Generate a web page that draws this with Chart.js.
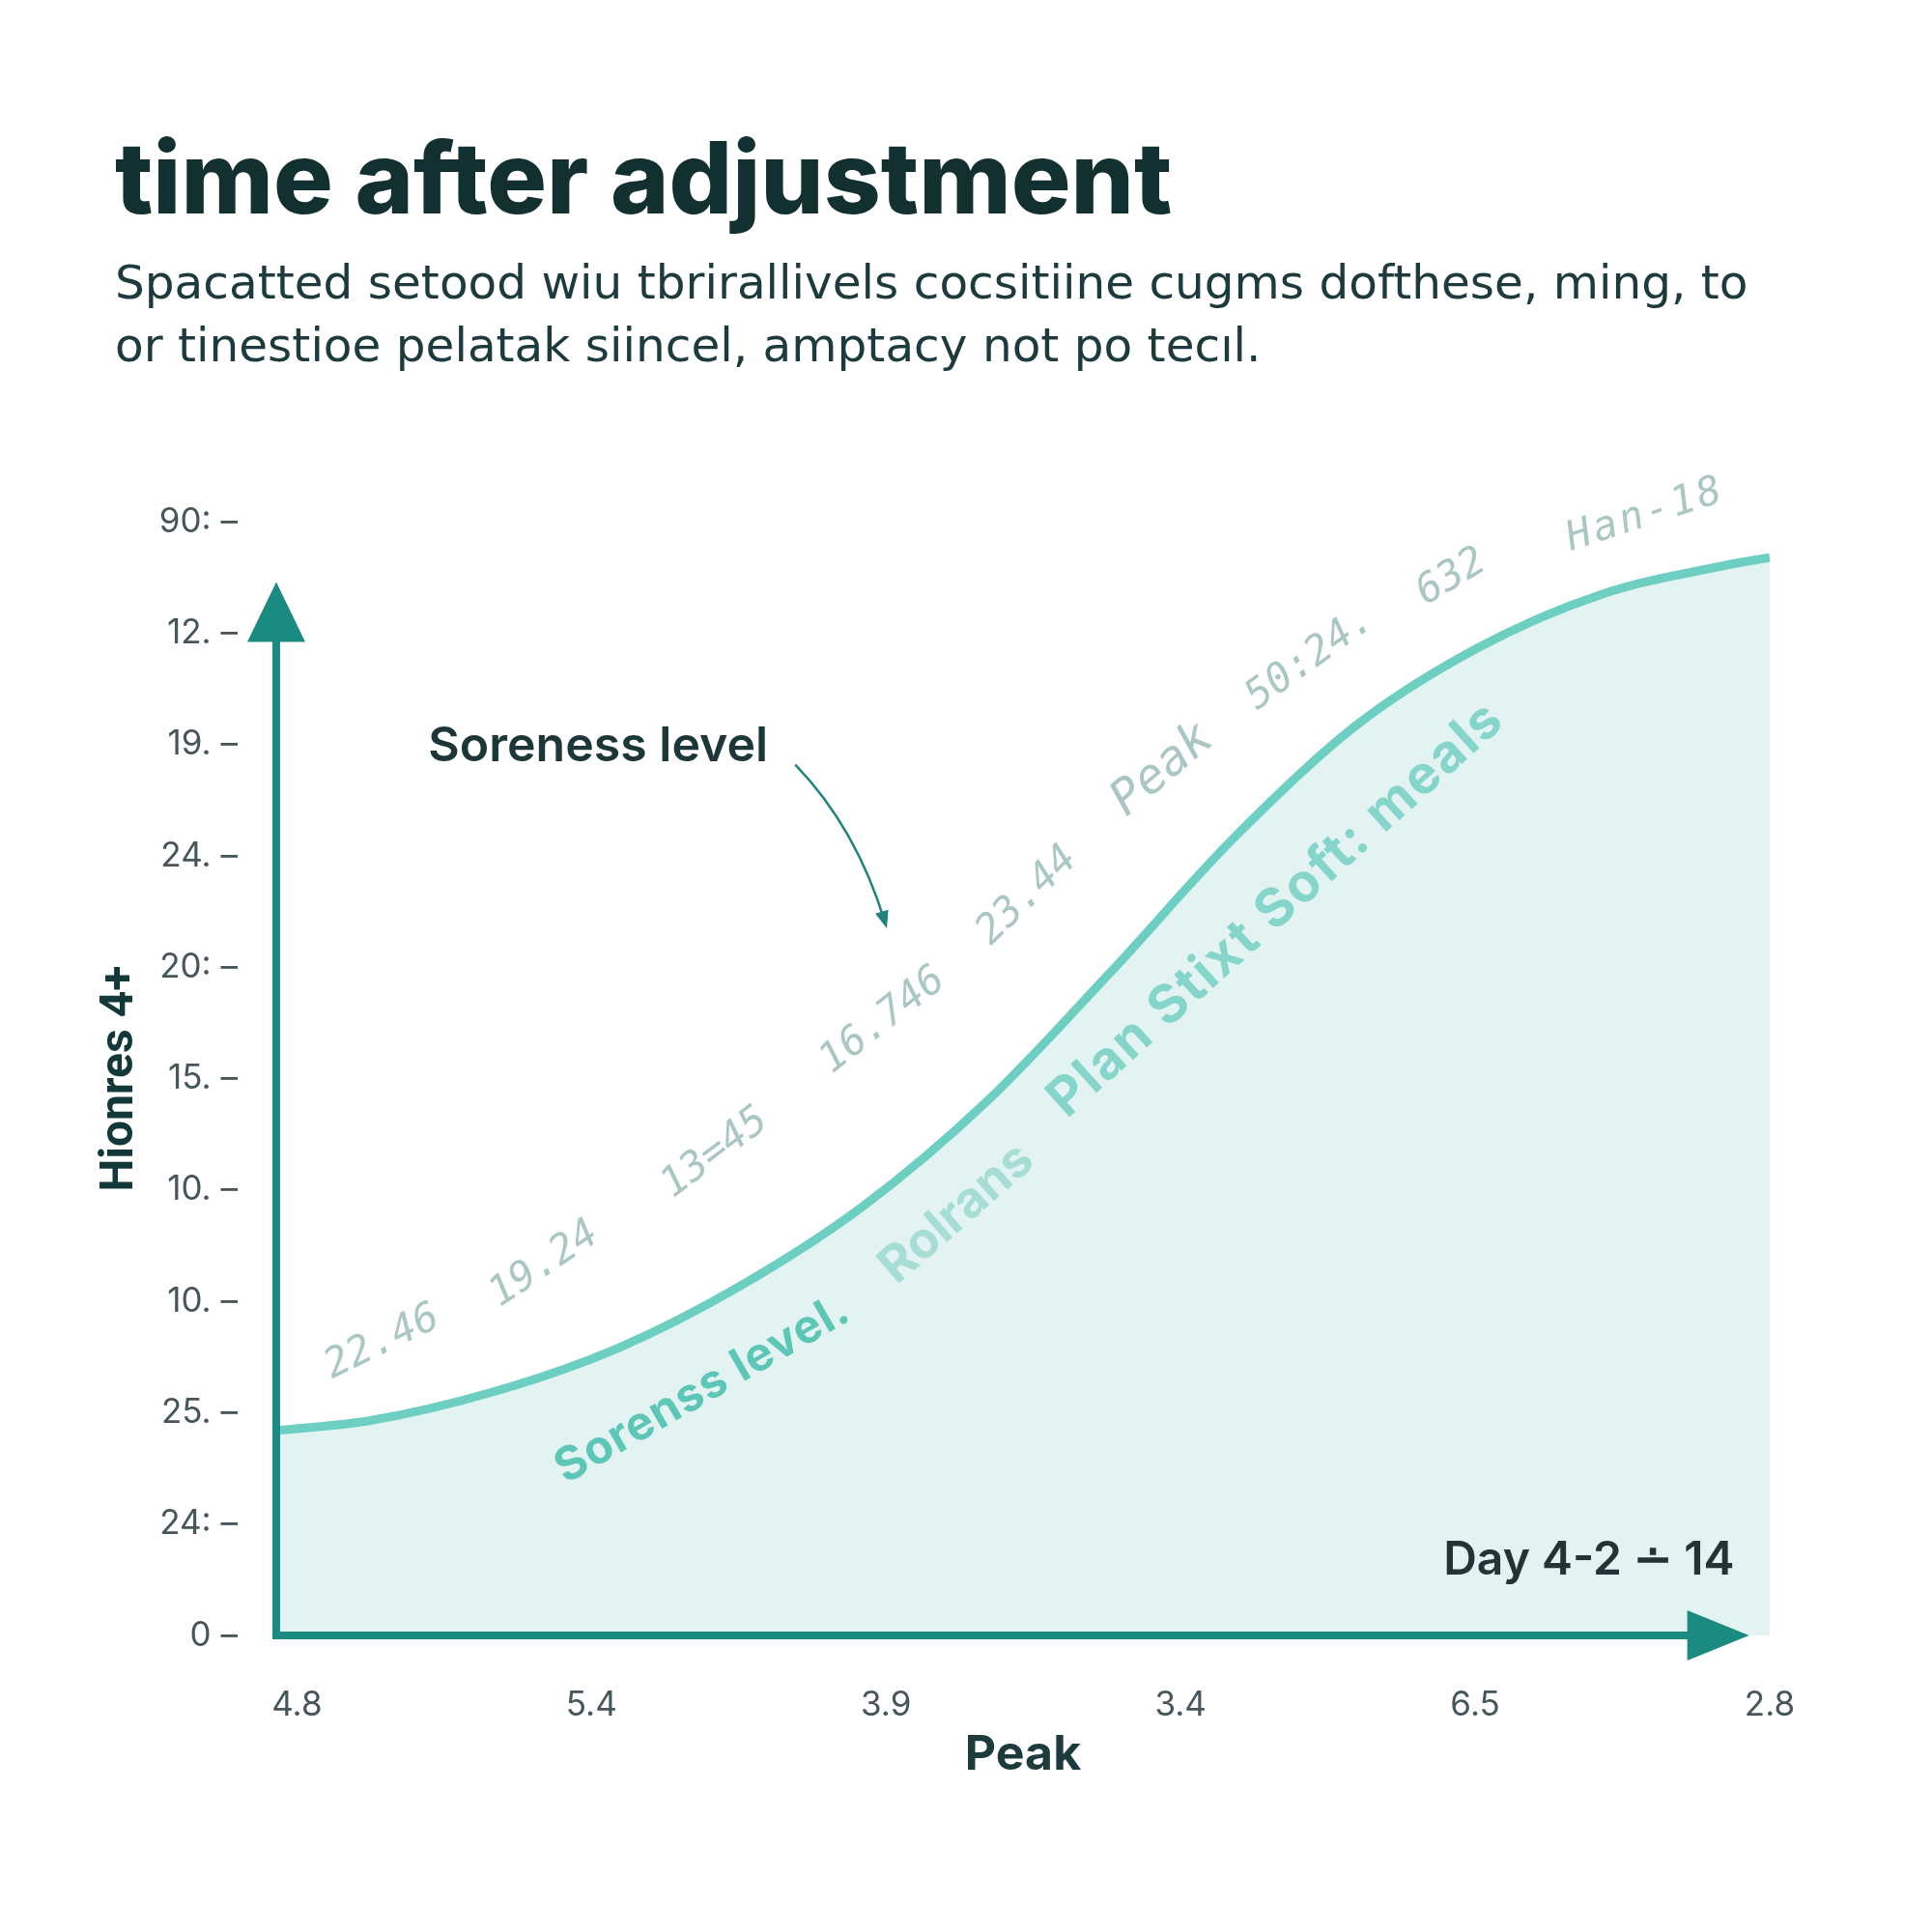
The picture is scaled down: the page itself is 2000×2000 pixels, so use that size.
<!DOCTYPE html>
<html>
<head>
<meta charset="utf-8">
<title>time after adjustment</title>
<script src="https://cdn.jsdelivr.net/npm/chart.js@4.4.1/dist/chart.umd.min.js"></script>
<style>
  html, body { margin: 0; padding: 0; background: #ffffff; }
  canvas { display: block; }
</style>
</head>
<body>
<canvas id="sorenessChart" width="2000" height="2000"></canvas>
<script>
// tick labels as printed on the picture
const xLabels = ["4.8", "5.4", "3.9", "3.4", "6.5", "2.8"];
const yTickLabels = ["0", "24:", "25.", "10.", "10.", "15.", "20:", "24.", "19.", "12.", "90:"];

// soreness curve (x in tick steps, y in tick steps)
const curveX = [-0.07, 0.25, 0.67, 1.09, 1.50, 1.92, 2.34, 2.76, 3.18, 3.59, 4.01, 4.43, 4.85, 5.00];
const curveY = [1.84, 1.93, 2.19, 2.58, 3.13, 3.85, 4.79, 5.95, 7.16, 8.16, 8.87, 9.35, 9.61, 9.68];

const subtitleLines = [
  "Spacatted setood wiu tbrirallivels cocsitiine cugms dofthese, ming, to",
  "or tinestioe pelatak siincel, amptacy not po tecıl."
];

// floating labels on the chart
const greyNotes = ["22.46", "19.24", "13=45", "16.746", "23.44", "Peak", "50:24.", "632", "Han-18"];
const tealNotes = ["Sorenss level.", "Rolrans", "Plan Stixt Soft: meals"];

const TEAL_DARK = "#1b8a81";
const LINE_TEAL = "#6dcfc2";
const FILL_TEAL = "#e2f3f2";
const INK = "#12302f";

function drawText(ctx, text, x, y, angle, font, color, align, spacing) {
  ctx.save();
  ctx.translate(x, y);
  ctx.rotate(-angle * Math.PI / 180);
  ctx.font = font;
  ctx.fillStyle = color;
  ctx.textAlign = align || "center";
  ctx.textBaseline = "middle";
  if (spacing) ctx.letterSpacing = spacing;
  ctx.fillText(text, 0, 0);
  ctx.restore();
}

const decorPlugin = {
  id: "decor",
  afterDatasetsDraw(chart) {
    const { ctx, chartArea } = chart;
    const xs = chart.scales.x;
    const ys = chart.scales.y;
    const px = v => xs.getPixelForValue(v);
    const py = v => ys.getPixelForValue(v);
    const left = chartArea.left, bottom = chartArea.bottom;

    // axes with arrow heads
    ctx.save();
    ctx.strokeStyle = TEAL_DARK;
    ctx.fillStyle = TEAL_DARK;
    ctx.lineWidth = 8;
    const yTip = py(9.46);
    ctx.beginPath();
    ctx.moveTo(left, bottom + 4);
    ctx.lineTo(left, yTip + 56);
    ctx.stroke();
    ctx.beginPath();
    ctx.moveTo(left, yTip);
    ctx.lineTo(left - 30, yTip + 62);
    ctx.lineTo(left + 30, yTip + 62);
    ctx.closePath();
    ctx.fill();

    const xTip = px(4.93);
    ctx.beginPath();
    ctx.moveTo(left - 4, bottom);
    ctx.lineTo(xTip - 58, bottom);
    ctx.stroke();
    ctx.beginPath();
    ctx.moveTo(xTip, bottom);
    ctx.lineTo(xTip - 64, bottom - 26);
    ctx.lineTo(xTip - 64, bottom + 26);
    ctx.closePath();
    ctx.fill();
    ctx.restore();

    // grey numbers above the curve
    const greyFont = 'italic 42px "DejaVu Sans Mono"';
    const greyColor = "#abc7c4";
    const greyPos = [
      [0.29, 2.63, 26], [0.84, 3.33, 34], [1.42, 4.33, 37], [1.99, 5.52, 38],
      [2.48, 6.64, 44], [2.94, 7.77, 40], [3.44, 8.77, 36], [3.92, 9.50, 31], [4.58, 10.06, 18]
    ];
    greyNotes.forEach((t, i) => {
      const [x, y, a] = greyPos[i];
      const f = t === "Peak" ? 'italic 50px "DejaVu Sans Mono"' : greyFont;
      drawText(ctx, t, px(x), py(y), a, f, greyColor, "center", t === "Han-18" ? "3px" : null);
    });

    // teal labels inside the filled area
    drawText(ctx, tealNotes[0], px(1.377), py(2.21), 30, '700 48px Inter', "#5cc6b7", "center", "1px");
    drawText(ctx, tealNotes[1], px(2.24), py(3.79), 41, '700 52px Inter', "#a6ddd5");
    drawText(ctx, tealNotes[2], px(3.325), py(6.52), 42, '700 55px Inter', "#86d5ca", "center", "2px");

    // "Soreness level" callout with pointer
    drawText(ctx, "Soreness level", px(0.446), py(7.98), 0, '600 50px Inter', "#1d3638", "left");
    ctx.save();
    ctx.strokeStyle = "#1f847d";
    ctx.fillStyle = "#1f847d";
    ctx.lineWidth = 2.5;
    const sx = px(1.692), sy = py(7.82);
    const cx = px(1.90), cy = py(7.25);
    const ex = px(1.997), ey = py(6.40);
    ctx.beginPath();
    ctx.moveTo(sx, sy);
    ctx.quadraticCurveTo(cx, cy, ex, ey);
    ctx.stroke();
    const ang = Math.atan2(ey - cy, ex - cx);
    ctx.beginPath();
    ctx.moveTo(ex + Math.cos(ang) * 6, ey + Math.sin(ang) * 6);
    ctx.lineTo(ex - Math.cos(ang) * 12 - Math.sin(ang) * 7, ey - Math.sin(ang) * 12 + Math.cos(ang) * 7);
    ctx.lineTo(ex - Math.cos(ang) * 12 + Math.sin(ang) * 7, ey - Math.sin(ang) * 12 - Math.cos(ang) * 7);
    ctx.closePath();
    ctx.fill();
    ctx.restore();

    drawText(ctx, "Day 4-2 \u2238 14", px(4.88), py(0.67), 0, '600 48px Inter', "#253236", "right");
  }
};

const ctx = document.getElementById("sorenessChart").getContext("2d");

new Chart(ctx, {
  type: "line",
  data: {
    datasets: [{
      label: "Soreness level",
      data: curveX.map((x, i) => ({ x, y: curveY[i] })),
      borderColor: LINE_TEAL,
      borderWidth: 9,
      backgroundColor: FILL_TEAL,
      fill: "origin",
      pointRadius: 0,
      cubicInterpolationMode: "monotone"
    }]
  },
  options: {
    responsive: false,
    animation: false,
    layout: { padding: { top: 40, left: 119, right: 168, bottom: 153 } },
    plugins: {
      legend: { display: false },
      tooltip: { enabled: false },
      title: {
        display: true,
        text: "time after adjustment",
        align: "start",
        color: INK,
        font: { family: "Inter", size: 103, weight: "800", lineHeight: 1.1 },
        padding: { top: 93, bottom: 0 }
      },
      subtitle: {
        display: true,
        text: subtitleLines,
        align: "start",
        color: "#1d3a3d",
        font: { family: "DejaVu Sans", size: 48.5, weight: "400", lineHeight: 1.34 },
        padding: { top: 18, bottom: 146 }
      }
    },
    scales: {
      x: {
        type: "linear",
        min: -0.07,
        max: 5,
        afterBuildTicks: s => { s.ticks = xLabels.map((_, i) => ({ value: i })); },
        grid: { display: false },
        border: { display: false },
        ticks: {
          padding: 43,
          color: "#46565a",
          font: { family: "Inter", size: 35 },
          callback: v => xLabels[v]
        },
        title: {
          display: true,
          text: "Peak",
          color: "#1d3a3d",
          font: { family: "Inter", size: 50, weight: "700" },
          padding: { top: -42, bottom: 0 }
        }
      },
      y: {
        min: 0,
        max: 10,
        afterBuildTicks: s => { s.ticks = yTickLabels.map((_, i) => ({ value: i })); },
        afterFit: s => { s.width = 167; },
        grid: { display: false },
        border: { display: false },
        ticks: {
          padding: 32,
          color: "#46565a",
          font: { family: "Inter", size: 35 },
          callback: v => yTickLabels[v] + " \u2013"
        },
        title: {
          display: true,
          text: "Hionres 4+",
          color: "#12383a",
          font: { family: "Roboto", size: 48, weight: "700" },
          padding: { top: -23, bottom: 0 }
        }
      }
    }
  },
  plugins: [decorPlugin]
});
</script>
</body>
</html>
